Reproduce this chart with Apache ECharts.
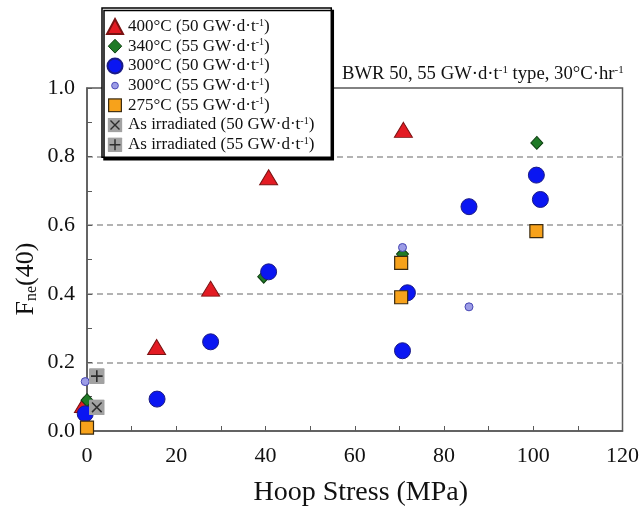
<!DOCTYPE html>
<html>
<head>
<meta charset="utf-8">
<script src="https://cdn.jsdelivr.net/npm/echarts@6/dist/echarts.min.js"></script>
<style>
html,body{margin:0;padding:0;background:#fff;}
#chart{width:642px;height:512px;}
</style>
</head>
<body>
<div id="chart"></div>
<script>
// ---- data ----
const seriesNames = [
  '400°C (50 GW·d·t^-1)',
  '340°C (55 GW·d·t^-1)',
  '300°C (50 GW·d·t^-1)',
  '300°C (55 GW·d·t^-1)',
  '275°C (55 GW·d·t^-1)',
  'As irradiated (50 GW·d·t^-1)',
  'As irradiated (55 GW·d·t^-1)'
];
const xTickLabels = [0, 20, 40, 60, 80, 100, 120];
const yTickLabels = [0.0, 0.2, 0.4, 0.6, 0.8, 1.0];
const s400C50 = [[-0.8, 0.076], [15.6, 0.245], [27.7, 0.415], [40.7, 0.74], [70.9, 0.878]];
const s340C55 = [[0, 0.09], [39.6, 0.45], [70.7, 0.516], [100.8, 0.84]];
const s300C50 = [[-0.4, 0.05], [15.7, 0.093], [27.7, 0.26], [40.7, 0.464], [70.7, 0.234], [71.8, 0.403], [85.6, 0.654], [100.7, 0.746], [101.6, 0.675]];
const s300C55 = [[-0.4, 0.144], [70.7, 0.535], [85.6, 0.362]];
const s275C55 = [[0, 0.01], [70.4, 0.39], [70.4, 0.49], [100.7, 0.583]];
const sIrr50 = [[2.2, 0.069]];
const sIrr55 = [[2.2, 0.16]];

// ---- styling helpers ----
const SERIF = "'Liberation Serif','Times New Roman',serif";
function svgUrl(svg) {
  return 'image://data:image/svg+xml;charset=utf-8,' + encodeURIComponent(svg);
}
function svg16(body) {
  return svgUrl("<svg xmlns='http://www.w3.org/2000/svg' width='32' height='32' viewBox='0 0 16 16'>" + body + "</svg>");
}
const boxX = svg16("<rect x='0.2' y='0.2' width='15.6' height='15.6' rx='1' fill='#a2a2a2'/><path d='M3.2 3.2L12.8 12.8M12.8 3.2L3.2 12.8' stroke='#2e2e2e' stroke-width='1.5'/>");
const boxPlus = svg16("<rect x='0.2' y='0.2' width='15.6' height='15.6' rx='1' fill='#a2a2a2'/><path d='M8 2.2V13.8M2.2 8H13.8' stroke='#2e2e2e' stroke-width='1.6'/>");
const smallDot = svg16("<circle cx='8' cy='8' r='3.6' fill='#9c9ce6' stroke='#4646b4' stroke-width='1'/>");
const legSquare = svg16("<rect x='1.2' y='1.2' width='13.6' height='13.6' fill='#f7a21b' stroke='#3a2a10' stroke-width='1.3'/>");
const legDiamond = svg16("<path d='M8 0.6L15.2 8L8 15.4L0.8 8Z' fill='#1f7a26' stroke='#0d3d10' stroke-width='1'/>");

function richName(name) {
  const parts = name.split('^-1');
  return '{n|' + parts[0] + '}{s|-1}{n|' + parts[1] + '}';
}

const chart = echarts.init(document.getElementById('chart'), null, {renderer: 'canvas'});

const option = {
  backgroundColor: '#fff',
  animation: false,
  grid: {
    left: 87, right: 15, top: 88, bottom: 81,
    show: true, borderColor: '#5a5a5a', borderWidth: 1.5, backgroundColor: 'transparent'
  },
  xAxis: {
    type: 'value', min: 0, max: 120, interval: 20,
    name: 'Hoop Stress (MPa)', nameLocation: 'middle', nameGap: 48,
    nameTextStyle: {fontFamily: SERIF, fontSize: 28, color: '#111', padding: [0, 0, 0, 12]},
    axisLine: {show: true, lineStyle: {color: '#5a5a5a', width: 1.5}},
    axisTick: {show: true, inside: true, length: 5, lineStyle: {color: '#5a5a5a'}},
    minorTick: {show: true, splitNumber: 2, length: 5, lineStyle: {color: '#5a5a5a'}},
    axisLabel: {
      customValues: xTickLabels,
      fontFamily: SERIF, fontSize: 22, color: '#111', margin: 14
    },
    splitLine: {show: false}
  },
  yAxis: {
    type: 'value', min: 0, max: 1, interval: 0.2,
    axisLine: {show: true, lineStyle: {color: '#5a5a5a', width: 1.5}},
    axisTick: {show: true, inside: true, length: 5, lineStyle: {color: '#5a5a5a'}},
    minorTick: {show: true, splitNumber: 2, length: 5, lineStyle: {color: '#5a5a5a'}},
    axisLabel: {
      customValues: yTickLabels,
      formatter: v => v.toFixed(1),
      fontFamily: SERIF, fontSize: 22, color: '#111', margin: 12,
      padding: [8, 0, 0, 0]
    },
    splitLine: {
      show: true, showMinLine: false, showMaxLine: false,
      lineStyle: {color: '#b3b3b3', width: 2, type: [6, 4]}
    }
  },
  legend: {
    orient: 'vertical', left: 102, top: 8,
    padding: [10, 17, 4, 4],
    itemWidth: 16, itemHeight: 15, itemGap: 2.7,
    backgroundColor: '#fff', borderColor: '#000', borderWidth: 1.5,
    shadowColor: '#000', shadowOffsetX: 2, shadowOffsetY: 2.5, shadowBlur: 0,
    selectedMode: false, z: 10,
    data: [
      {name: seriesNames[0]},
      {name: seriesNames[1], icon: legDiamond},
      {name: seriesNames[2]},
      {name: seriesNames[3], icon: smallDot},
      {name: seriesNames[4], icon: legSquare},
      {name: seriesNames[5], icon: boxX},
      {name: seriesNames[6], icon: boxPlus}
    ],
    formatter: richName,
    textStyle: {
      fontFamily: SERIF, fontSize: 17, color: '#111',
      rich: {
        n: {fontFamily: SERIF, fontSize: 17, color: '#111', lineHeight: 17},
        s: {fontFamily: SERIF, fontSize: 10, color: '#111', verticalAlign: 'top', lineHeight: 10}
      }
    }
  },
  graphic: [
    {
      type: 'text', left: 342, top: 65, z: 5,
      style: {
        text: '{n|BWR 50, 55 GW·d·t}{s|-1}{n| type, 30°C·hr}{s|-1}',
        rich: {
          n: {fontFamily: SERIF, fontSize: 18.7, fill: '#111', lineHeight: 19},
          s: {fontFamily: SERIF, fontSize: 11, fill: '#111', verticalAlign: 'top', lineHeight: 11}
        }
      }
    },
    {
      type: 'text', x: 26, y: 279, rotation: Math.PI / 2, z: 5,
      style: {
        text: '{a|F}{b|ne}{a|(40)}',
        align: 'center', verticalAlign: 'middle',
        rich: {
          a: {fontFamily: SERIF, fontSize: 26, fill: '#111', lineHeight: 28},
          b: {fontFamily: SERIF, fontSize: 16, fill: '#111', verticalAlign: 'bottom', lineHeight: 16}
        }
      }
    }
  ],
  series: [
    {
      name: seriesNames[0], type: 'scatter', clip: false, data: s400C50,
      symbol: 'triangle', symbolSize: [18, 15],
      itemStyle: {color: '#e31b23', borderColor: '#7a1212', borderWidth: 1, opacity: 1}
    },
    {
      name: seriesNames[1], type: 'scatter', clip: false, data: s340C55,
      symbol: 'diamond', symbolSize: [12, 13],
      itemStyle: {color: '#1f7a26', borderColor: '#0d3d10', borderWidth: 1, opacity: 1}
    },
    {
      name: seriesNames[2], type: 'scatter', clip: false, data: s300C50,
      symbol: 'circle', symbolSize: 16,
      itemStyle: {color: '#0a16f2', borderColor: '#1b1b86', borderWidth: 1, opacity: 1}
    },
    {
      name: seriesNames[3], type: 'scatter', clip: false, data: s300C55,
      symbol: 'circle', symbolSize: 8,
      itemStyle: {color: '#9c9ce6', borderColor: '#4646b4', borderWidth: 1, opacity: 1}
    },
    {
      name: seriesNames[4], type: 'scatter', clip: false, data: s275C55,
      symbol: 'rect', symbolSize: 13,
      itemStyle: {color: '#f7a21b', borderColor: '#3a2a10', borderWidth: 1.2, opacity: 1}
    },
    {
      name: seriesNames[5], type: 'scatter', clip: false, data: sIrr50,
      symbol: boxX, symbolSize: 16,
      itemStyle: {color: '#a2a2a2', opacity: 1}
    },
    {
      name: seriesNames[6], type: 'scatter', clip: false, data: sIrr55,
      symbol: boxPlus, symbolSize: 16,
      itemStyle: {color: '#a2a2a2', opacity: 1}
    }
  ]
};
chart.setOption(option);
</script>
</body>
</html>
